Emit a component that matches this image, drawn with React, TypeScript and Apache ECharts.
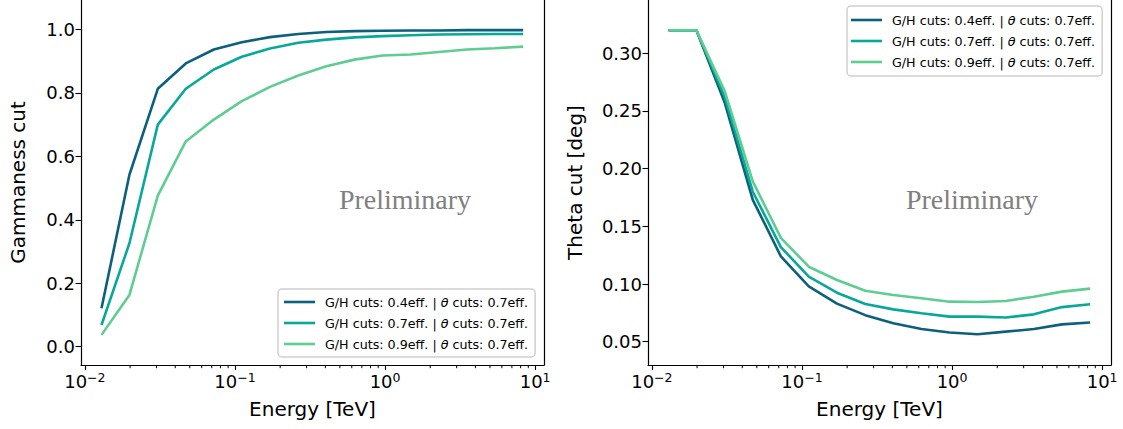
import React, { useEffect, useRef } from "react";
import * as echarts from "echarts";

const energy = [0.0129, 0.0198, 0.0306, 0.047, 0.0723, 0.111, 0.171, 0.264, 0.406, 0.625, 0.962, 1.48, 2.28, 3.51, 5.4, 8.32];

const seriesNames = [
  "G/H cuts: 0.4eff. | θ cuts: 0.7eff.",
  "G/H cuts: 0.7eff. | θ cuts: 0.7eff.",
  "G/H cuts: 0.9eff. | θ cuts: 0.7eff.",
];

const gammaness04 = [0.121, 0.542, 0.813, 0.893, 0.937, 0.96, 0.976, 0.986, 0.992, 0.995, 0.996, 0.997, 0.997, 0.998, 0.998, 0.998];
const gammaness07 = [0.068, 0.326, 0.7, 0.813, 0.874, 0.914, 0.94, 0.958, 0.968, 0.975, 0.979, 0.982, 0.984, 0.985, 0.986, 0.986];
const gammaness09 = [0.037, 0.163, 0.476, 0.647, 0.716, 0.774, 0.819, 0.855, 0.884, 0.905, 0.918, 0.921, 0.929, 0.937, 0.941, 0.946];

const theta04 = [0.32, 0.32, 0.257, 0.173, 0.124, 0.098, 0.083, 0.073, 0.066, 0.061, 0.058, 0.0564, 0.0587, 0.061, 0.065, 0.0667];
const theta07 = [0.32, 0.32, 0.262, 0.18, 0.132, 0.1064, 0.0925, 0.0827, 0.078, 0.0746, 0.0717, 0.0717, 0.071, 0.0737, 0.08, 0.0824];
const theta09 = [0.32, 0.32, 0.267, 0.189, 0.14, 0.115, 0.1035, 0.0942, 0.0905, 0.0876, 0.0847, 0.0844, 0.0853, 0.089, 0.0934, 0.096];

const xMajorTicks = [-2, -1, 0, 1];
const gammaTicks = [0, 0.2, 0.4, 0.6, 0.8, 1.0];
const thetaTicks = [0.05, 0.1, 0.15, 0.2, 0.25, 0.3];

const colors = ["#0c607b", "#08a898", "#5ecd92"];
const FONT = "DejaVu Sans";

const X_MIN = -2.026;
const X_MAX = 1.059;
const GAMMA_RANGE = [-0.058, 1.093];
const THETA_RANGE = [0.0298, 0.3462];

function minorTicks(): number[] {
  const out: number[] = [];
  for (let n = -3; n <= 1; n++) {
    for (let k = 2; k <= 9; k++) {
      const v = n + Math.log10(k);
      if (v > X_MIN && v < X_MAX) out.push(v);
    }
  }
  return out;
}

export default function App() {
  const ref = useRef<HTMLDivElement>(null);
  useEffect(() => {
    document.body.style.margin = "0";
    const chart = echarts.init(ref.current!, null, { renderer: "svg" });
    const grids = [
      { left: 81, top: 0, width: 463, height: 365 },
      { left: 648, top: 0, width: 463, height: 365 },
    ];
    const supLabel = (v: number) => {
      const e = v < 0 ? "\u2212" + Math.abs(v) : String(v);
      return `{b|10}{s|${e}}`;
    };
    const titleStyle = { fontFamily: FONT, fontSize: 20, color: "#000" };
    const xAxes: any[] = [];
    const yAxes: any[] = [];
    [0, 1].forEach((g) => {
      xAxes.push({
        type: "value",
        gridIndex: g,
        min: X_MIN,
        max: X_MAX,
        position: "bottom",
        name: "Energy [TeV]",
        nameLocation: "middle",
        nameGap: 34,
        nameTextStyle: titleStyle,
        axisLine: { show: true, onZero: false, lineStyle: { color: "#000", width: 1.2 } },
        axisTick: { show: true, customValues: xMajorTicks, length: 5, lineStyle: { color: "#000", width: 1.1 } },
        axisLabel: {
          customValues: xMajorTicks,
          formatter: supLabel,
          margin: 6,
          color: "#000",
          rich: {
            b: { fontFamily: FONT, fontSize: 18, lineHeight: 21, color: "#000" },
            s: { fontFamily: FONT, fontSize: 12.5, lineHeight: 13, verticalAlign: "top", color: "#000" },
          },
        },
        splitLine: { show: false },
      });
    });
    const yCommon = (g: number, r: number[]) => ({ type: "value", gridIndex: g, min: r[0], max: r[1], splitLine: { show: false } });
    yAxes.push({
      ...yCommon(0, GAMMA_RANGE),
      position: "left",
      name: "Gammaness cut",
      nameLocation: "middle",
      nameGap: 53,
      nameTextStyle: titleStyle,
      axisLine: { show: true, onZero: false, lineStyle: { color: "#000", width: 1.2 } },
      axisTick: { show: true, customValues: gammaTicks, length: 5.5, lineStyle: { color: "#000", width: 1.1 } },
      axisLabel: { customValues: gammaTicks, formatter: (v: number) => v.toFixed(1), fontFamily: FONT, fontSize: 18, color: "#000", margin: 6 },
    });
    yAxes.push({
      ...yCommon(0, GAMMA_RANGE),
      position: "right",
      axisLine: { show: true, onZero: false, lineStyle: { color: "#000", width: 1.2 } },
      axisTick: { show: false },
      axisLabel: { show: false },
    });
    yAxes.push({
      ...yCommon(1, THETA_RANGE),
      position: "left",
      name: "Theta cut [deg]",
      nameLocation: "middle",
      nameGap: 63,
      nameTextStyle: titleStyle,
      axisLine: { show: true, onZero: false, lineStyle: { color: "#000", width: 1.2 } },
      axisTick: { show: true, customValues: thetaTicks, length: 5.5, lineStyle: { color: "#000", width: 1.1 } },
      axisLabel: { customValues: thetaTicks, formatter: (v: number) => v.toFixed(2), fontFamily: FONT, fontSize: 18, color: "#000", margin: 6 },
    });
    yAxes.push({
      ...yCommon(1, THETA_RANGE),
      position: "right",
      axisLine: { show: true, onZero: false, lineStyle: { color: "#000", width: 1.2 } },
      axisTick: { show: false },
      axisLabel: { show: false },
    });

    const mk = (name: string, vals: number[], g: number, c: string) => ({
      type: "line",
      name,
      xAxisIndex: g,
      yAxisIndex: g * 2,
      data: energy.map((e, i) => [Math.log10(e), vals[i]]),
      symbol: "none",
      showSymbol: false,
      lineStyle: { color: c, width: 2.6 },
      itemStyle: { color: c },
      z: 3,
    });
    const minors = minorTicks();
    const yMins = [GAMMA_RANGE[0], THETA_RANGE[0]];
    const minorSeries = [0, 1].map((g) => ({
      type: "custom",
      xAxisIndex: g,
      yAxisIndex: g * 2,
      clip: false,
      silent: true,
      z: 5,
      data: minors.map((v) => [v, yMins[g]]),
      renderItem: (_p: any, api: any) => {
        const pt = api.coord([api.value(0), api.value(1)]);
        return {
          type: "line",
          shape: { x1: pt[0], y1: pt[1], x2: pt[0], y2: pt[1] + 3.2 },
          style: { stroke: "#000", lineWidth: 1 },
        };
      },
    }));
    const series = [
      mk(seriesNames[0], gammaness04, 0, colors[0]),
      mk(seriesNames[1], gammaness07, 0, colors[1]),
      mk(seriesNames[2], gammaness09, 0, colors[2]),
      mk(seriesNames[0], theta04, 1, colors[0]),
      mk(seriesNames[1], theta07, 1, colors[1]),
      mk(seriesNames[2], theta09, 1, colors[2]),
      ...minorSeries,
    ];

    const legendBase = {
      orient: "vertical",
      data: seriesNames,
      icon: "rect",
      itemWidth: 31,
      itemHeight: 2.6,
      itemGap: 7,
      backgroundColor: "rgba(255,255,255,0.85)",
      borderColor: "#cfcfcf",
      borderWidth: 1.5,
      borderRadius: 4,
      selectedMode: false,
      formatter: (n: string) => n.replace("θ", "{i|θ}"),
      textStyle: {
        fontFamily: FONT,
        fontSize: 12.7,
        lineHeight: 14,
        color: "#000",
        padding: [0, 0, 0, 5],
        rich: {
          i: { fontFamily: "DejaVu Sans", fontStyle: "italic", fontSize: 12.7, color: "#000" },
        },
      },
    };

    const prelim = (x: number) => ({
      type: "text",
      x,
      y: 199,
      style: { text: "Preliminary", font: '28px "Liberation Serif"', fill: "#808080", align: "center", verticalAlign: "middle" },
    });

    chart.setOption({
      animation: false,
      backgroundColor: "#fff",
      grid: grids,
      xAxis: xAxes,
      yAxis: yAxes,
      legend: [
        { ...legendBase, left: 278, top: 289, padding: [6, 7, 6, 6] },
        { ...legendBase, left: 847, top: 6, padding: [7, 7, 7, 4] },
      ],
      series,
      graphic: [prelim(405), prelim(972)],
    });
    return () => chart.dispose();
  }, []);
  return <div ref={ref} style={{ width: 1123, height: 429 }} />;
}
